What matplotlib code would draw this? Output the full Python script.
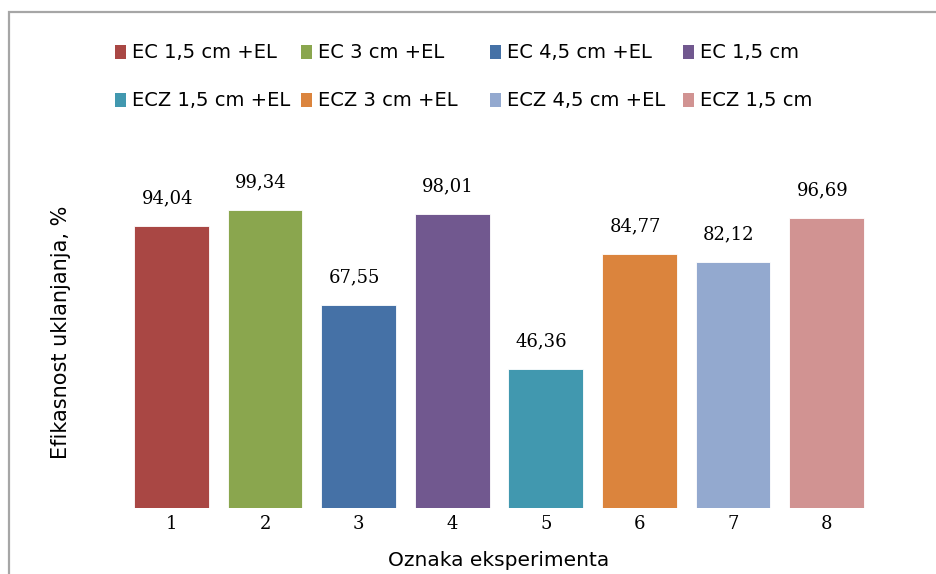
import matplotlib
matplotlib.use("Agg")
import matplotlib.pyplot as plt
from matplotlib.patches import Rectangle

categories = ["1", "2", "3", "4", "5", "6", "7", "8"]
values = [94.04, 99.34, 67.55, 98.01, 46.36, 84.77, 82.12, 96.69]
value_labels = ["94,04", "99,34", "67,55", "98,01", "46,36", "84,77", "82,12", "96,69"]
series_names = ["EC 1,5 cm +EL", "EC 3 cm +EL", "EC 4,5 cm +EL", "EC 1,5 cm",
                "ECZ 1,5 cm +EL", "ECZ 3 cm +EL", "ECZ 4,5 cm +EL", "ECZ 1,5 cm"]
colors = ["#A94744", "#8AA64E", "#4571A6", "#71588F",
          "#4198AF", "#DB843D", "#93A9CF", "#D19392"]

W, H = 936, 574
fig = plt.figure(figsize=(W / 100, H / 100), dpi=100)

# frame border
fig.patches.append(Rectangle((9 / W, 1 - 590 / H), 940 / W, (590 - 12) / H,
                             transform=fig.transFigure, fill=False,
                             edgecolor="#A6A6A6", linewidth=1.6))

left_px, right_px = 124.7, 873.3
bottom_px, top_px = 508, 208
ax = fig.add_axes([left_px / W, 1 - bottom_px / H,
                   (right_px - left_px) / W, (bottom_px - top_px) / H])

x = list(range(1, len(categories) + 1))
ax.bar(x, values, width=0.8, color=colors, edgecolor="white", linewidth=0.6)
for xi, v, lab in zip(x, values, value_labels):
    ax.annotate(lab, (xi, v), xytext=(-3, 20), textcoords="offset points",
                ha="center", va="center", fontsize=13, family="DejaVu Serif",
                clip_on=False)

ax.set_xlim(0.5, 8.5)
ax.set_ylim(0, 100)
ax.set_xticks(x)
ax.set_xticklabels(categories, family="DejaVu Serif", fontsize=13)
ax.tick_params(axis="x", length=0, pad=5)
ax.set_yticks([])
for s in ax.spines.values():
    s.set_visible(False)

fig.text(499 / W, 1 - 560 / H, "Oznaka eksperimenta", ha="center", va="center",
         fontsize=14.5, family="DejaVu Sans")
fig.text(61 / W, 1 - 332 / H, "Efikasnost uklanjanja, %", ha="center", va="center",
         rotation=90, fontsize=15, family="DejaVu Sans")

# legend: 2 rows x 4 columns
col_px = [115, 301, 490, 683]
row_px = [52, 100]
sq = 11
for i, (name, c) in enumerate(zip(series_names, colors)):
    r, k = divmod(i, 4)
    x0, yc = col_px[k], row_px[r]
    fig.patches.append(Rectangle((x0 / W, 1 - (yc + 6.5) / H), sq / W, 13 / H,
                                 transform=fig.transFigure, facecolor=c,
                                 edgecolor="none"))
    fig.text((x0 + sq + 6) / W, 1 - yc / H, name, ha="left", va="center",
             fontsize=14, family="DejaVu Sans")

fig.savefig("out.png", dpi=100)
